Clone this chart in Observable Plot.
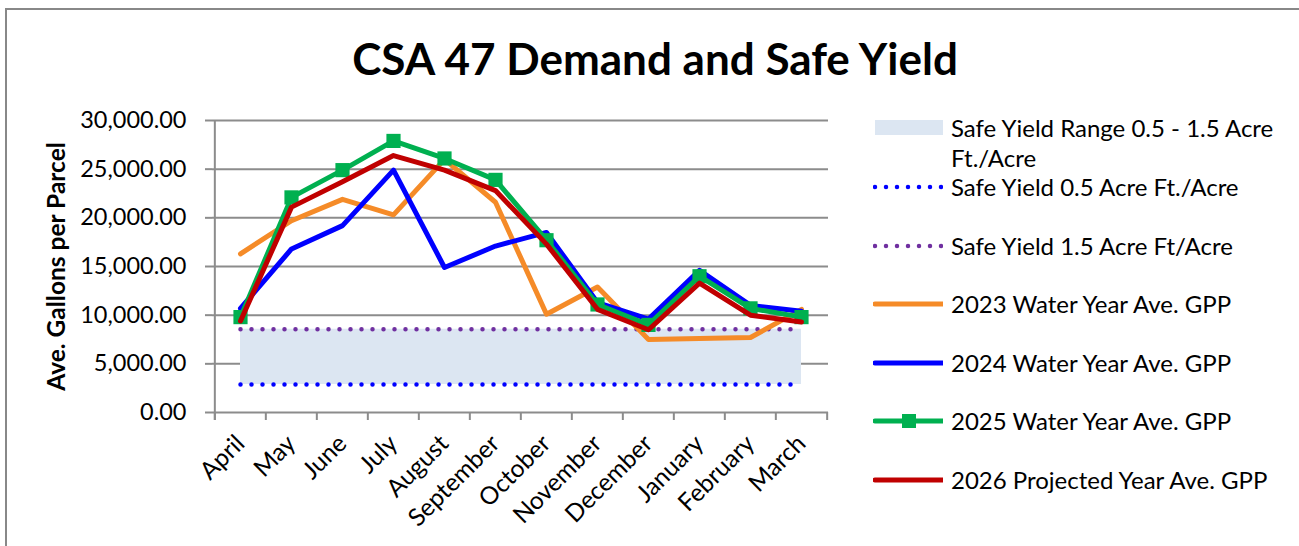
<!DOCTYPE html>
<html><head><meta charset="utf-8">
<script src="https://cdn.jsdelivr.net/npm/d3@7"></script>
<script src="https://cdn.jsdelivr.net/npm/@observablehq/plot@0.6"></script>
<style>
body{margin:0;background:#fff;font-family:Lato,sans-serif;}
#wrap{position:relative;width:1299px;height:546px;overflow:hidden;background:#fff;}
#border{position:absolute;left:5px;top:8px;width:1400px;height:600px;border:2px solid #888;box-sizing:border-box;}
#title{position:absolute;left:10px;width:1290px;top:36px;text-align:center;font-weight:bold;font-size:44px;line-height:44px;color:#000;}
#chart{position:absolute;left:0;top:100px;}
.lg{position:absolute;left:873px;display:flex;align-items:center;height:30px;}
.lg svg{flex:none;}
.lg span{margin-left:8px;font-size:24px;color:#000;white-space:nowrap;line-height:30px;}
</style></head>
<body><div id="wrap"><div id="border"></div><div id="title">CSA 47 Demand and Safe Yield</div><div id="chart"></div><div id="legend"></div></div>
<script>
const months = ["April","May","June","July","August","September","October","November","December","January","February","March"];
const yTicks = [0, 5000, 10000, 15000, 20000, 25000, 30000];
const gpp2023 = [16300, 19700, 21900, 20300, 26000, 21600, 10100, 12900, 7500, 7600, 7700, 10600];
const gpp2024 = [10700, 16800, 19200, 24900, 14900, 17100, 18500, 11300, 9600, 14600, 11000, 10400];
const gpp2025 = [9800, 22100, 24900, 27900, 26100, 23900, 17700, 11100, 9000, 14000, 10700, 9800];
const gpp2026 = [9400, 21100, 23700, 26400, 24900, 22800, 17300, 10600, 8500, 13300, 10000, 9300];
const safeLow = [2870, 2870, 2870, 2870, 2870, 2870, 2870, 2870, 2870, 2870, 2870, 2870];
const safeHigh = [8550, 8550, 8550, 8550, 8550, 8550, 8550, 8550, 8550, 8550, 8550, 8550];
const seriesNames = ["Safe Yield Range 0.5 - 1.5 Acre Ft./Acre", "Safe Yield 0.5 Acre Ft./Acre", "Safe Yield 1.5 Acre Ft/Acre", "2023 Water Year Ave. GPP", "2024 Water Year Ave. GPP", "2025 Water Year Ave. GPP", "2026 Projected Year Ave. GPP"];
const seriesColors = ["#dce6f2", "#0000ff", "#7030a0", "#f58b28", "#0000ff", "#00b050", "#c00000"];

const step = (828 - 212) / 12;
const toRows = (vals) => months.map((m, i) => ({month: m, value: vals[i]}));
const band = months.map((m, i) => ({month: m, lo: safeLow[i], hi: safeHigh[i]}));
const grey = "#8c8c8c";
const lineOpts = (c) => ({x: "month", y: "value", stroke: c, strokeWidth: 5, strokeLinejoin: "round", strokeLinecap: "round"});
const dotted = (c) => ({x: "month", y: "value", stroke: c, strokeWidth: 4.5, strokeDasharray: "0 11", strokeLinecap: "round"});

const chart = Plot.plot({
  width: 1299, height: 446,
  marginLeft: 212, marginRight: 471, marginTop: 20, marginBottom: 134,
  x: {type: "point", domain: months, padding: 0.5},
  y: {domain: [0, 30000]},
  style: {fontFamily: "Lato, sans-serif", color: "#000", background: "transparent", overflow: "visible"},
  marks: [
    Plot.gridY(yTicks, {stroke: grey, strokeOpacity: 1, strokeWidth: 2}),
    Plot.areaY(band, {x: "month", y1: "lo", y2: "hi", fill: seriesColors[0]}),
    Plot.lineY(toRows(safeLow), dotted(seriesColors[1])),
    Plot.lineY(toRows(safeHigh), dotted(seriesColors[2])),
    Plot.lineY(toRows(gpp2023), lineOpts(seriesColors[3])),
    Plot.lineY(toRows(gpp2024), lineOpts(seriesColors[4])),
    Plot.lineY(toRows(gpp2025), lineOpts(seriesColors[5])),
    Plot.dot(toRows(gpp2025), {x: "month", y: "value", symbol: "square", r: 8, fill: seriesColors[5]}),
    Plot.lineY(toRows(gpp2026), lineOpts(seriesColors[6])),
    Plot.ruleX([months[0]], {dx: -step / 2, y1: 30000, y2: 0, insetBottom: -8, stroke: grey, strokeWidth: 2}),
    Plot.ruleX(months, {dx: -step / 2, y1: 0, y2: 0, insetBottom: -8, stroke: grey, strokeWidth: 2}),
    Plot.ruleX([months[11]], {dx: step / 2, y1: 0, y2: 0, insetBottom: -8, stroke: grey, strokeWidth: 2}),
    Plot.axisY(yTicks, {tickSize: 7, tickPadding: 19, tickFormat: d3.format(",.2f"), fontSize: 23.5, stroke: grey, strokeWidth: 2, label: null}),
    Plot.axisX({tickSize: 0, tickRotate: -45, tickPadding: 27, fontSize: 24.5, label: null}),
    Plot.text(["Ave. Gallons per Parcel"], {frameAnchor: "left", textAnchor: "middle", rotate: -90, dx: -155, fontWeight: "bold", fontSize: 24.5})
  ]
});
document.getElementById("chart").appendChild(chart);

// legend
const legend = document.getElementById("legend");
const rowY = [128, 187, 246, 304, 363, 421, 480];
const swatch = (k) => {
  const c = seriesColors[k];
  if (k === 0) return `<svg width="70" height="20"><rect x="2" y="3" width="68" height="15" fill="${c}"/></svg>`;
  if (k === 1 || k === 2) return `<svg width="70" height="20"><line x1="2" x2="70" y1="10" y2="10" stroke="${c}" stroke-width="4.5" stroke-dasharray="0 11" stroke-linecap="round"/></svg>`;
  let s = `<svg width="70" height="20"><line x1="2" x2="70" y1="10" y2="10" stroke="${c}" stroke-width="5" stroke-linecap="round"/>`;
  if (k === 5) s += `<rect x="29" y="3" width="14" height="14" fill="${c}"/>`;
  return s + `</svg>`;
};
seriesNames.forEach((name, k) => {
  const d = document.createElement("div");
  d.className = "lg";
  d.style.top = (rowY[k] - 15) + "px";
  const label = k === 0 ? "Safe Yield Range 0.5 - 1.5 Acre<br>Ft./Acre" : name;
  d.innerHTML = swatch(k) + `<span>${label}</span>`;
  if (k === 0) { d.style.alignItems = "flex-start"; d.querySelector("svg").style.marginTop = "4px"; }
  legend.appendChild(d);
});
</script></body></html>
